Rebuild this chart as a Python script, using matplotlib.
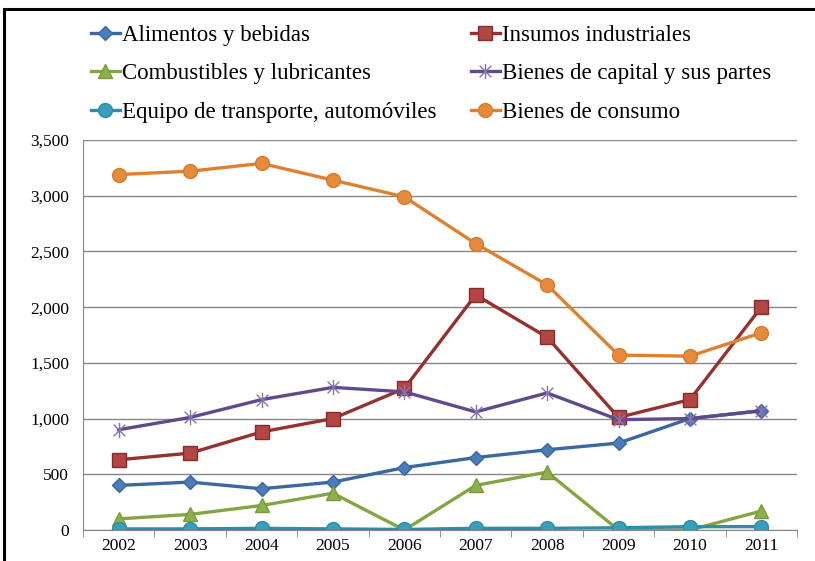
import matplotlib.pyplot as plt
import matplotlib.patches as mpatches
from matplotlib.path import Path
import numpy as np

years = ["2002", "2003", "2004", "2005", "2006", "2007", "2008", "2009", "2010", "2011"]

alimentos = [400, 430, 370, 430, 560, 650, 720, 780, 1000, 1070]
insumos = [630, 690, 880, 1000, 1270, 2110, 1730, 1010, 1170, 2000]
combustibles = [100, 140, 220, 330, 0, 400, 520, 0, 0, 170]
capital = [900, 1010, 1170, 1280, 1240, 1060, 1230, 990, 1000, 1070]
equipo = [10, 10, 15, 10, 5, 15, 15, 20, 30, 30]
consumo = [3190, 3220, 3290, 3140, 2990, 2570, 2200, 1570, 1560, 1770]

plt.rcParams['font.family'] = ['Liberation Serif', 'DejaVu Serif']

# marcador tipo "estrella" de Excel: x + linea vertical
star = Path([(-1, -1), (1, 1), (-1, 1), (1, -1), (0, -1.3), (0, 1.3)],
            [Path.MOVETO, Path.LINETO, Path.MOVETO, Path.LINETO, Path.MOVETO, Path.LINETO])

x = np.arange(len(years))

fig = plt.figure(figsize=(8.15, 5.61), dpi=100)
ax = fig.add_axes([83 / 815, 31 / 561, 714 / 815, 390 / 561])

lw = 2.4
h_alim, = ax.plot(x, alimentos, color="#3A68A3", lw=lw, marker="D", ms=7.5,
                  mfc="#4A7EBB", mec="#3A67A0", label="Alimentos y bebidas")
h_ins, = ax.plot(x, insumos, color="#973130", lw=lw, marker="s", ms=9.5,
                 mfc="#B24644", mec="#8A2B2A", label="Insumos industriales")
h_comb, = ax.plot(x, combustibles, color="#84A544", lw=lw, marker="^", ms=10,
                  mfc="#8DB04C", mec="#7A9A3C", label="Combustibles y lubricantes")
h_cap, = ax.plot(x, capital, color="#5F4A8B", lw=lw, marker=star, ms=11,
                 mec="#8A74AE", mew=1.0, label="Bienes de capital y sus partes")
h_eq, = ax.plot(x, equipo, color="#2C8EA8", lw=lw, marker="o", ms=10,
                mfc="#3A9DB9", mec="#2F8CA4", label="Equipo de transporte, automóviles")
h_con, = ax.plot(x, consumo, color="#E0802E", lw=lw, marker="o", ms=10,
                 mfc="#E58B3E", mec="#D97A2A", label="Bienes de consumo")

ax.set_xlim(-0.5, len(years) - 0.5)
ax.set_ylim(0, 3500)
ax.set_yticks(np.arange(0, 3501, 500))
ax.set_yticklabels([f"{v:,}" for v in range(0, 3501, 500)], fontsize=12.5)
ax.set_xticks(x)
ax.set_xticklabels(years, fontsize=12.5)
ax.set_xticks(np.arange(-0.5, len(years)), minor=True)
ax.tick_params(axis="x", which="major", length=0, pad=6)
ax.tick_params(axis="x", which="minor", length=5, color="#868686", direction="out")
ax.tick_params(axis="y", length=0, pad=10)
ax.grid(axis="y", color="#868686", lw=1.0)
ax.set_axisbelow(True)
for s in ["top", "right"]:
    ax.spines[s].set_visible(False)
ax.spines["left"].set_color("#868686")
ax.spines["bottom"].set_color("#868686")

kw = dict(frameon=False, fontsize=16.5, handlelength=1.25, handletextpad=0.1,
          labelspacing=0.76, borderpad=0, borderaxespad=0)
leg1 = fig.legend(handles=[h_alim, h_comb, h_eq], loc="upper left",
                  bbox_to_anchor=(91 / 815, 1 - 25 / 561), **kw)
leg2 = fig.legend(handles=[h_ins, h_cap, h_con], loc="upper left",
                  bbox_to_anchor=(471 / 815, 1 - 25 / 561), **kw)

# marco exterior
fig.add_artist(mpatches.Rectangle((4 / 815, -0.05), 1.0, 1 - 9 / 561 + 0.05,
                                  transform=fig.transFigure, fill=False,
                                  ec="black", lw=2.2, clip_on=False))

fig.savefig("out.png", dpi=100)
